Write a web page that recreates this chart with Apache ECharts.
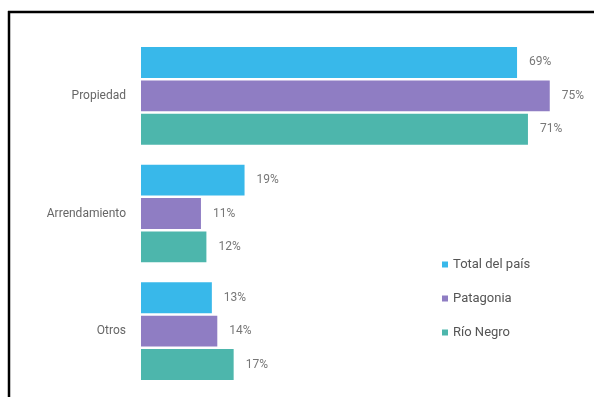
<!DOCTYPE html>
<html><head><meta charset="utf-8">
<script src="https://cdn.jsdelivr.net/npm/echarts@6/dist/echarts.min.js"></script>
<style>html,body{margin:0;padding:0;background:#fff}#c{width:594px;height:397px}</style>
</head><body><div id="c"></div>
<script>
const categories = ['Propiedad', 'Arrendamiento', 'Otros'];
const seriesNames = ['Total del país', 'Patagonia', 'Río Negro'];
const totalPais = [69, 19, 13];
const patagonia = [75, 11, 14];
const rioNegro = [71, 12, 17];
const colors = ['#38B8EA', '#8F7DC3', '#4DB6AC'];

const chart = echarts.init(document.getElementById('c'));
const lbl = {show: true, position: 'right', distance: 12, formatter: '{c}%', color: '#777', fontFamily: 'Roboto', fontSize: 12};
chart.setOption({
  animation: false,
  grid: {left: 141, right: 17, top: 37, bottom: 7, containLabel: false},
  xAxis: {type: 'value', min: 0, max: 80, show: false},
  yAxis: {type: 'category', data: categories, inverse: true,
    axisLine: {show: false}, axisTick: {show: false},
    axisLabel: {margin: 15, color: '#666', fontFamily: 'Roboto', fontSize: 12}},
  legend: {orient: 'vertical', left: 437, top: 253, itemWidth: 6, itemHeight: 6, itemGap: 21,
    icon: 'rect', textStyle: {color: '#555', fontFamily: 'Roboto', fontSize: 13, padding: [0,0,0,0]}},
  graphic: [
    {type: 'line', shape: {x1: 8, y1: 12, x2: 594, y2: 12}, style: {stroke: '#000', lineWidth: 2.5}},
    {type: 'line', shape: {x1: 9, y1: 11, x2: 9, y2: 397}, style: {stroke: '#000', lineWidth: 2.5}}
  ],
  series: [
    {name: seriesNames[0], type: 'bar', data: totalPais, itemStyle: {color: colors[0]}, label: lbl, barGap: '8%', barCategoryGap: '17%'},
    {name: seriesNames[1], type: 'bar', data: patagonia, itemStyle: {color: colors[1]}, label: lbl},
    {name: seriesNames[2], type: 'bar', data: rioNegro, itemStyle: {color: colors[2]}, label: lbl}
  ]
});
</script></body></html>
